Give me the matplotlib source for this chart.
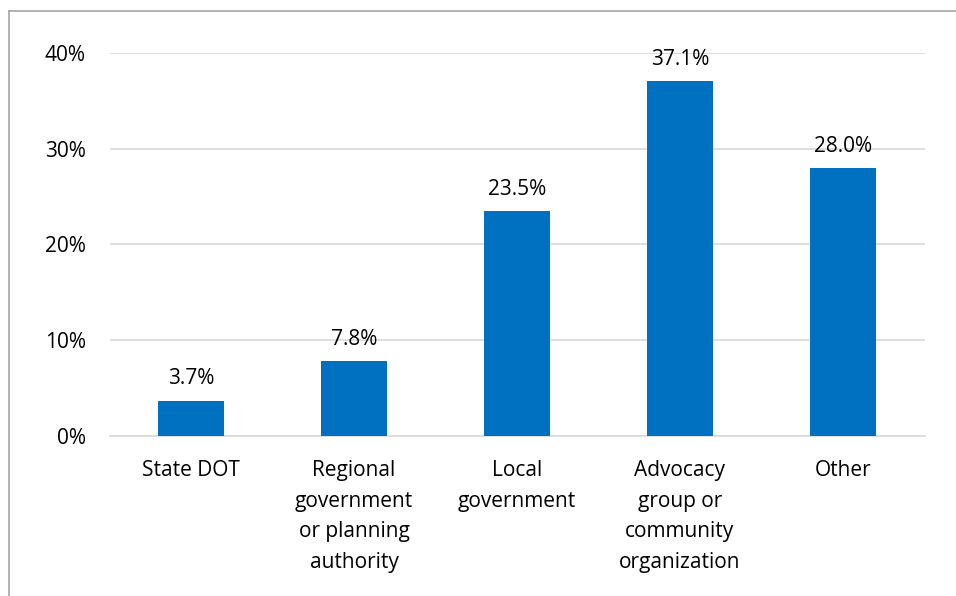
import matplotlib
matplotlib.use("Agg")
import matplotlib.pyplot as plt
from matplotlib.lines import Line2D
from matplotlib.ticker import FuncFormatter

categories = ["State DOT", "Regional\ngovernment\nor planning\nauthority", "Local\ngovernment",
              "Advocacy\ngroup or\ncommunity\norganization", "Other"]
values = [3.7, 7.8, 23.5, 37.1, 28.0]
yticks = [0, 10, 20, 30, 40]

plt.rcParams['font.family'] = ['Open Sans', 'DejaVu Sans']
fig = plt.figure(figsize=(9.56, 5.96), dpi=100)
ax = fig.add_axes([109.5/956, 160/596, 815/956, 383/596])

x = list(range(len(categories)))
bars = ax.bar(x, values, width=0.4, color="#0070C0", zorder=3)
ax.set_xlim(-0.5, len(categories) - 0.5)
ax.set_ylim(0, 40)
ax.set_yticks(yticks)
ax.yaxis.set_major_formatter(FuncFormatter(lambda v, p: f"{v:.0f}%"))
ax.grid(axis="y", color="#D9D9D9", linewidth=1.2, zorder=0)
for s in ["top", "right", "left"]:
    ax.spines[s].set_visible(False)
ax.spines["bottom"].set_color("#D9D9D9")
ax.spines["bottom"].set_linewidth(1.2)
ax.set_xticks(x)
ax.set_xticklabels(categories, linespacing=1.62)
ax.tick_params(axis="x", length=0, pad=17, labelsize=15, colors="#000000")
ax.tick_params(axis="y", length=0, pad=17, labelsize=15, colors="#000000")

for xi, v in zip(x, values):
    ax.annotate(f"{v:.1f}%", (xi, v), xytext=(0, 8), textcoords="offset points",
                ha="center", va="bottom", fontsize=15, clip_on=False)

fig.add_artist(Line2D([8.5/956, 8.5/956], [0, (596-10.5)/596], transform=fig.transFigure,
                      color="#A6A6A6", linewidth=1.2))
fig.add_artist(Line2D([8.5/956, 1], [(596-10.5)/596, (596-10.5)/596], transform=fig.transFigure,
                      color="#A6A6A6", linewidth=1.2))

fig.savefig("out.png", dpi=100)
